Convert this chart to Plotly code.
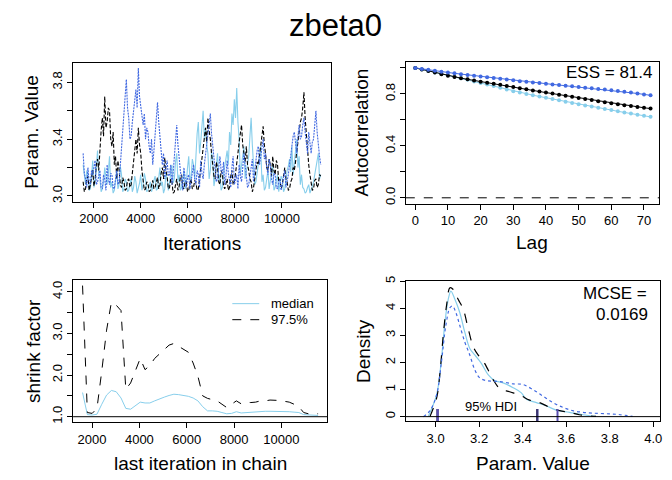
import plotly.graph_objects as go

# ---- data ----
trace_iter = list(range(1550, 11650, 51))

trace_skyblue = [3.22, 3.12, 3.08, 3.18, 3.15, 3.04, 3.05, 3.14, 3.25, 3.06,
                 3.10, 3.20, 3.32, 3.16, 3.12, 3.03, 3.05, 3.10, 3.20, 3.13,
                 3.08, 3.17, 3.28, 3.06, 3.10, 3.02, 3.04, 3.11, 3.18, 3.05,
                 3.08, 3.21, 3.15, 3.03, 3.05, 3.12, 3.10, 3.03, 3.04, 3.09,
                 3.12, 3.03, 3.06, 3.14, 3.10, 3.02, 3.05, 3.09, 3.15, 3.04,
                 3.08, 3.16, 3.12, 3.03, 3.04, 3.08, 3.10, 3.03, 3.06, 3.11,
                 3.14, 3.04, 3.05, 3.13, 3.20, 3.07, 3.10, 3.02, 3.05, 3.16,
                 3.12, 3.04, 3.08, 3.17, 3.22, 3.09, 3.12, 3.24, 3.30, 3.10,
                 3.15, 3.04, 3.06, 3.12, 3.18, 3.05, 3.10, 3.20, 3.28, 3.11,
                 3.14, 3.26, 3.22, 3.12, 3.35, 3.44, 3.52, 3.30, 3.38, 3.47,
                 3.60, 3.40, 3.48, 3.36, 3.30, 3.12, 3.18, 3.31, 3.25, 3.07,
                 3.12, 3.22, 3.30, 3.11, 3.15, 3.04, 3.06, 3.15, 3.20, 3.26,
                 3.32, 3.22, 3.45, 3.36, 3.58, 3.50, 3.68, 3.55, 3.76, 3.52,
                 3.40, 3.15, 3.22, 3.30, 3.35, 3.12, 3.18, 3.25, 3.28, 3.42,
                 3.55, 3.36, 3.25, 3.08, 3.10, 3.16, 3.20, 3.28, 3.35, 3.10,
                 3.15, 3.04, 3.06, 3.12, 3.18, 3.05, 3.10, 3.16, 3.22, 3.04,
                 3.06, 3.11, 3.15, 3.03, 3.08, 3.14, 3.12, 3.03, 3.05, 3.12,
                 3.18, 3.21, 3.26, 3.17, 3.35, 3.15, 3.22, 3.31, 3.40, 3.20,
                 3.28, 3.08, 3.15, 3.06, 3.05, 3.02, 3.03, 3.06, 3.08, 3.02,
                 3.04, 3.07, 3.10, 3.14, 3.20, 3.25, 3.30, 3.12, 3.15]

trace_black = [3.10, 3.03, 3.05, 3.12, 3.14, 3.04, 3.08, 3.15, 3.18, 3.07,
               3.12, 3.22, 3.26, 3.18, 3.38, 3.46, 3.55, 3.42, 3.70, 3.48,
               3.52, 3.62, 3.60, 3.40, 3.35, 3.45, 3.22, 3.28, 3.12, 3.25,
               3.18, 3.08, 3.06, 3.13, 3.10, 3.04, 3.05, 3.11, 3.12, 3.06,
               3.08, 3.16, 3.25, 3.32, 3.40, 3.30, 3.48, 3.36, 3.30, 3.18,
               3.12, 3.04, 3.05, 3.10, 3.09, 3.03, 3.04, 3.08, 3.11, 3.05,
               3.06, 3.10, 3.13, 3.05, 3.08, 3.16, 3.20, 3.12, 3.27, 3.18,
               3.14, 3.05, 3.06, 3.12, 3.10, 3.02, 3.03, 3.08, 3.12, 3.04,
               3.07, 3.13, 3.15, 3.06, 3.05, 3.10, 3.10, 3.03, 3.04, 3.09,
               3.12, 3.05, 3.06, 3.11, 3.09, 3.04, 3.05, 3.12, 3.20, 3.28,
               3.35, 3.42, 3.48, 3.38, 3.55, 3.46, 3.40, 3.30, 3.22, 3.14,
               3.12, 3.24, 3.20, 3.10, 3.08, 3.18, 3.16, 3.07, 3.05, 3.10,
               3.12, 3.04, 3.06, 3.14, 3.18, 3.08, 3.10, 3.16, 3.22, 3.30,
               3.38, 3.45, 3.50, 3.36, 3.30, 3.24, 3.35, 3.22, 3.18, 3.12,
               3.10, 3.03, 3.06, 3.12, 3.15, 3.24, 3.22, 3.30, 3.38, 3.44,
               3.49, 3.36, 3.30, 3.20, 3.18, 3.26, 3.22, 3.14, 3.28, 3.18,
               3.15, 3.25, 3.22, 3.10, 3.12, 3.05, 3.08, 3.14, 3.20, 3.12,
               3.10, 3.04, 3.05, 3.10, 3.12, 3.20, 3.18, 3.24, 3.30, 3.38,
               3.45, 3.52, 3.55, 3.62, 3.73, 3.55, 3.42, 3.30, 3.22, 3.15,
               3.10, 3.04, 3.05, 3.11, 3.12, 3.06, 3.08, 3.15, 3.14]

trace_royal = [3.30, 3.16, 3.12, 3.06, 3.20, 3.10, 3.08, 3.18, 3.15, 3.22,
               3.25, 3.08, 3.10, 3.14, 3.18, 3.06, 3.05, 3.15, 3.12, 3.04,
               3.22, 3.12, 3.08, 3.16, 3.15, 3.06, 3.05, 3.12, 3.18, 3.08,
               3.10, 3.22, 3.35, 3.50, 3.60, 3.72, 3.82, 3.62, 3.55, 3.40,
               3.42, 3.52, 3.60, 3.68, 3.75, 3.62, 3.90, 3.70, 3.62, 3.55,
               3.50, 3.58, 3.40, 3.48, 3.45, 3.35, 3.30, 3.40, 3.22, 3.32,
               3.45, 3.55, 3.66, 3.52, 3.40, 3.28, 3.22, 3.30, 3.12, 3.20,
               3.25, 3.14, 3.15, 3.22, 3.08, 3.16, 3.30, 3.42, 3.50, 3.36,
               3.25, 3.18, 3.12, 3.04, 3.20, 3.12, 3.06, 3.13, 3.15, 3.05,
               3.10, 3.18, 3.22, 3.12, 3.08, 3.18, 3.15, 3.06, 3.25, 3.16,
               3.12, 3.22, 3.30, 3.38, 3.45, 3.52, 3.58, 3.44, 3.35, 3.26,
               3.20, 3.10, 3.12, 3.20, 3.28, 3.18, 3.15, 3.24, 3.08, 3.14,
               3.25, 3.16, 3.12, 3.06, 3.20, 3.28, 3.08, 3.12, 3.15, 3.05,
               3.22, 3.14, 3.10, 3.20, 3.30, 3.22, 3.15, 3.06, 3.08, 3.14,
               3.18, 3.26, 3.10, 3.16, 3.25, 3.32, 3.35, 3.22, 3.28, 3.36,
               3.40, 3.26, 3.30, 3.20, 3.15, 3.26, 3.22, 3.12, 3.08, 3.16,
               3.15, 3.06, 3.05, 3.10, 3.12, 3.04, 3.08, 3.14, 3.18, 3.06,
               3.10, 3.15, 3.22, 3.30, 3.35, 3.42, 3.45, 3.36, 3.30, 3.42,
               3.50, 3.40, 3.42, 3.50, 3.55, 3.45, 3.38, 3.30, 3.45, 3.35,
               3.30, 3.38, 3.40, 3.50, 3.60, 3.45, 3.35, 3.28, 3.22]

acf_lag = list(range(0, 73, 2))
acf_skyblue = [1.000, 0.988, 0.976, 0.965, 0.954, 0.943, 0.932, 0.920, 0.908, 0.896,
               0.884, 0.872, 0.860, 0.847, 0.834, 0.821, 0.810, 0.800, 0.790, 0.780,
               0.770, 0.760, 0.750, 0.740, 0.730, 0.720, 0.711, 0.702, 0.693, 0.684,
               0.675, 0.666, 0.657, 0.648, 0.640, 0.631, 0.623]
acf_black = [1.000, 0.988, 0.976, 0.964, 0.952, 0.940, 0.930, 0.921, 0.912, 0.903,
             0.894, 0.886, 0.878, 0.870, 0.861, 0.852, 0.843, 0.835, 0.826, 0.818,
             0.810, 0.802, 0.794, 0.786, 0.777, 0.768, 0.760, 0.752, 0.744, 0.736,
             0.728, 0.720, 0.713, 0.706, 0.699, 0.693, 0.687]
acf_royal = [1.000, 0.992, 0.985, 0.978, 0.971, 0.965, 0.958, 0.952, 0.946, 0.940,
             0.934, 0.928, 0.922, 0.916, 0.910, 0.904, 0.898, 0.893, 0.888, 0.883,
             0.878, 0.873, 0.868, 0.863, 0.858, 0.853, 0.848, 0.843, 0.838, 0.833,
             0.828, 0.822, 0.816, 0.810, 0.803, 0.796, 0.789]
ess_text = "ESS = 81.4"

gelman_iter = list(range(1600, 11550, 203))
gelman_median = [1.58, 1.05, 1.04, 1.06, 1.30, 1.52, 1.63, 1.60, 1.45, 1.20,
                 1.18, 1.26, 1.35, 1.33, 1.33, 1.38, 1.43, 1.47, 1.51, 1.54,
                 1.53, 1.51, 1.49, 1.45, 1.38, 1.24, 1.14, 1.14, 1.13, 1.10,
                 1.07, 1.08, 1.12, 1.09, 1.10, 1.11, 1.12, 1.12, 1.13, 1.13,
                 1.13, 1.13, 1.13, 1.12, 1.11, 1.10, 1.05, 1.04, 1.03, 1.03]
gelman_975 = [4.15, 1.10, 1.08, 1.20, 2.10, 3.08, 3.75, 3.68, 3.55, 1.66,
              1.81, 2.09, 2.40, 2.13, 2.23, 2.40, 2.50, 2.60, 2.72, 2.76,
              2.69, 2.64, 2.55, 2.29, 1.97, 1.50, 1.44, 1.41, 1.38, 1.30,
              1.22, 1.30, 1.38, 1.31, 1.35, 1.34, 1.35, 1.38, 1.38, 1.40,
              1.40, 1.39, 1.37, 1.35, 1.30, 1.24, 1.10, 1.07, 1.07, 1.07]

dens_sky_x = [2.966, 3.005, 3.027, 3.043, 3.058, 3.070, 3.089, 3.111, 3.134, 3.157,
              3.180, 3.210, 3.241, 3.272, 3.310, 3.356, 3.394, 3.417, 3.463, 3.508,
              3.554, 3.615, 3.676, 3.737]
dens_sky_y = [0.00, 0.82, 2.15, 3.49, 4.33, 4.64, 4.33, 3.85, 3.12, 2.52,
              2.28, 1.97, 1.55, 1.33, 1.25, 1.07, 0.88, 0.64, 0.52, 0.40,
              0.24, 0.16, 0.07, 0.01]
dens_black_x = [2.974, 3.005, 3.020, 3.035, 3.050, 3.066, 3.081, 3.104, 3.127, 3.150,
                3.173, 3.195, 3.218, 3.241, 3.264, 3.295, 3.340, 3.386, 3.432, 3.478,
                3.524, 3.570, 3.615, 3.660, 3.737]
dens_black_y = [0.00, 0.70, 1.61, 3.00, 4.09, 4.76, 4.70, 4.33, 3.97, 3.24,
                2.58, 2.28, 2.06, 1.73, 1.37, 1.04, 0.92, 0.80, 0.61, 0.52,
                0.34, 0.22, 0.16, 0.07, 0.01]
dens_royal_x = [2.944, 2.974, 3.005, 3.027, 3.047, 3.066, 3.078, 3.093, 3.111, 3.134,
                3.157, 3.180, 3.203, 3.234, 3.264, 3.310, 3.356, 3.400, 3.447, 3.493,
                3.539, 3.585, 3.630, 3.676, 3.720, 3.780, 3.840, 3.905]
dens_royal_y = [0.00, 0.22, 0.82, 2.03, 3.37, 4.03, 4.09, 3.85, 3.37, 2.76,
                2.28, 1.73, 1.43, 1.33, 1.31, 1.28, 1.21, 1.19, 1.00, 0.76,
                0.52, 0.34, 0.22, 0.16, 0.13, 0.11, 0.08, 0.01]
hdi_low = [3.008, 3.009, 3.010]
hdi_high = [3.469, 3.466, 3.560]
mcse_value = "0.0169"

chain_colors = ["#87CEEB", "#000000", "#4169E1"]
chain_dash = ["solid", "4px,2px", "2px,1px"]

FONT = "Liberation Sans, Arial, sans-serif"
W, H = 672, 480

fig = go.Figure()

# trace plot
for ys, col, dash in zip([trace_skyblue, trace_black, trace_royal], chain_colors, chain_dash):
    fig.add_trace(go.Scatter(x=trace_iter, y=ys, mode="lines",
                             line=dict(color=col, width=1.1, dash=dash),
                             xaxis="x", yaxis="y", showlegend=False))

# autocorrelation
for ys, col in zip([acf_skyblue, acf_black, acf_royal], chain_colors):
    fig.add_trace(go.Scatter(x=acf_lag, y=ys, mode="lines+markers",
                             line=dict(color=col, width=1),
                             marker=dict(color=col, size=4),
                             xaxis="x2", yaxis="y2", showlegend=False))

# shrink factor
fig.add_trace(go.Scatter(x=gelman_iter, y=gelman_median, mode="lines",
                         line=dict(color="#87CEEB", width=1),
                         xaxis="x3", yaxis="y3", showlegend=False))
fig.add_trace(go.Scatter(x=gelman_iter, y=gelman_975, mode="lines",
                         line=dict(color="black", width=1, dash="dash"),
                         xaxis="x3", yaxis="y3", showlegend=False))

# density
for xs, ys, col, dash in zip([dens_sky_x, dens_black_x, dens_royal_x],
                             [dens_sky_y, dens_black_y, dens_royal_y],
                             chain_colors, ["solid", "dash", "dot"]):
    fig.add_trace(go.Scatter(x=xs, y=ys, mode="lines", line_shape="spline",
                             line=dict(color=col, width=1.2, dash=dash),
                             xaxis="x4", yaxis="y4", showlegend=False))
for lo, hi, col in zip(hdi_low, hdi_high, ["#6F6FB0", "#3A3470", "#5A4FB0"]):
    fig.add_trace(go.Scatter(x=[lo, hi], y=[0, 0], mode="markers",
                             marker=dict(symbol="line-ns", size=11,
                                         line=dict(color=col, width=2)),
                             xaxis="x4", yaxis="y4", showlegend=False))

hdi_mid = sum(hdi_low + hdi_high) / 6

axis = dict(showline=True, linecolor="black", linewidth=1, mirror=True,
            ticks="outside", ticklen=5, tickcolor="black", showgrid=False,
            zeroline=False, tickfont=dict(family=FONT, size=13, color="black"))
yax = dict(axis, tickangle=-90)


def px_x(a, b):
    return [a / W, b / W]


def px_y(top, bottom):
    return [1 - bottom / H, 1 - top / H]


iter_ticks = [2000, 4000, 6000, 8000, 10000]

fig.update_layout(
    width=W, height=H, margin=dict(l=0, r=0, t=0, b=0),
    plot_bgcolor="white", paper_bgcolor="white",
    font=dict(family=FONT, color="black"),
    xaxis=dict(axis, domain=px_x(73, 331.7), range=[1110, 12072], anchor="y",
               tickvals=iter_ticks, ticktext=[str(t) for t in iter_ticks]),
    yaxis=dict(yax, domain=px_y(57.7, 199), range=[2.96, 3.938], anchor="x",
               tickvals=[3.0, 3.2, 3.4, 3.6, 3.8],
               ticktext=["3.0", "", "3.4", "", "3.8"]),
    xaxis2=dict(axis, domain=px_x(407, 661), range=[-2.9, 74.6], anchor="y2",
                tickvals=[0, 10, 20, 30, 40, 50, 60, 70]),
    yaxis2=dict(yax, domain=px_y(57, 201), range=[-0.045, 1.045], anchor="x2",
                tickvals=[0, 0.2, 0.4, 0.6, 0.8, 1.0],
                ticktext=["0.0", "", "0.4", "", "0.8", ""]),
    xaxis3=dict(axis, domain=px_x(73.3, 328.3), range=[1200, 11937], anchor="y3",
                tickvals=iter_ticks, ticktext=[str(t) for t in iter_ticks]),
    yaxis3=dict(yax, domain=px_y(279, 423), range=[0.874, 4.276], anchor="x3",
                tickvals=[1.0, 1.5, 2.0, 2.5, 3.0, 3.5, 4.0],
                ticktext=["1.0", "", "2.0", "", "3.0", "", "4.0"]),
    xaxis4=dict(axis, domain=px_x(407, 662), range=[2.863, 4.031], anchor="y4",
                tickvals=[3.0, 3.2, 3.4, 3.6, 3.8, 4.0],
                ticktext=["3.0", "3.2", "3.4", "3.6", "3.8", "4.0"]),
    yaxis4=dict(yax, domain=px_y(280, 422), range=[-0.16, 5.0], anchor="x4",
                tickvals=[0, 1, 2, 3, 4, 5]),
)

# reference lines
fig.add_shape(type="line", xref="x2 domain", yref="y2", x0=0, x1=1, y0=0, y1=0,
              line=dict(color="black", width=1, dash="dash"))
fig.add_shape(type="line", xref="x3 domain", yref="y3", x0=0, x1=1, y0=1, y1=1,
              line=dict(color="black", width=1))
fig.add_shape(type="line", xref="x4 domain", yref="y4", x0=0, x1=1, y0=0, y1=0,
              line=dict(color="black", width=1))

# legend of shrink factor panel
fig.add_shape(type="line", xref="paper", yref="paper", x0=233 / W, x1=260 / W,
              y0=1 - 302.7 / H, y1=1 - 302.7 / H, line=dict(color="#87CEEB", width=1))
fig.add_shape(type="line", xref="paper", yref="paper", x0=233 / W, x1=260 / W,
              y0=1 - 319 / H, y1=1 - 319 / H, line=dict(color="black", width=1, dash="dash"))


def note(text, x, y, size, angle=0, xanchor="center", yanchor="middle"):
    fig.add_annotation(text=text, x=x, y=y, xref="paper", yref="paper",
                       showarrow=False, textangle=angle, xanchor=xanchor,
                       yanchor=yanchor, font=dict(family=FONT, size=size, color="black"))


note("zbeta0", 336 / W, 1 - 20 / H, 31)
note("Iterations", 202.4 / W, 1 - 242 / H, 19)
note("Param. Value", 31.7 / W, 1 - 128.3 / H, 19, angle=-90)
note("Lag", 534 / W, 1 - 240 / H, 19)
note("Autocorrelation", 362.7 / W, 1 - 129 / H, 19, angle=-90)
note("last iteration in chain", 200.8 / W, 1 - 465 / H, 19)
note("shrink factor", 33 / W, 1 - 351 / H, 19, angle=-90)
note("Param. Value", 534.5 / W, 1 - 465 / H, 19)
note("Density", 364 / W, 1 - 351 / H, 19, angle=-90)
note(ess_text, 656 / W, 1 - 68 / H, 17, xanchor="right")
note("MCSE =", 651 / W, 1 - 292.7 / H, 17, xanchor="right")
note(mcse_value, 652 / W, 1 - 313.3 / H, 17, xanchor="right")
note("median", 270 / W, 1 - 302.7 / H, 13, xanchor="left")
note("97.5%", 270 / W, 1 - 319 / H, 13, xanchor="left")

fig.add_annotation(text="95% HDI", x=hdi_mid, y=0, xref="x4", yref="y4",
                   showarrow=False, yanchor="bottom", yshift=1,
                   font=dict(family=FONT, size=13, color="black"))

fig.write_html("out.html", config={"displayModeBar": False},
               post_script="document.body.style.margin='0';"
                           "document.body.style.padding='0';")
